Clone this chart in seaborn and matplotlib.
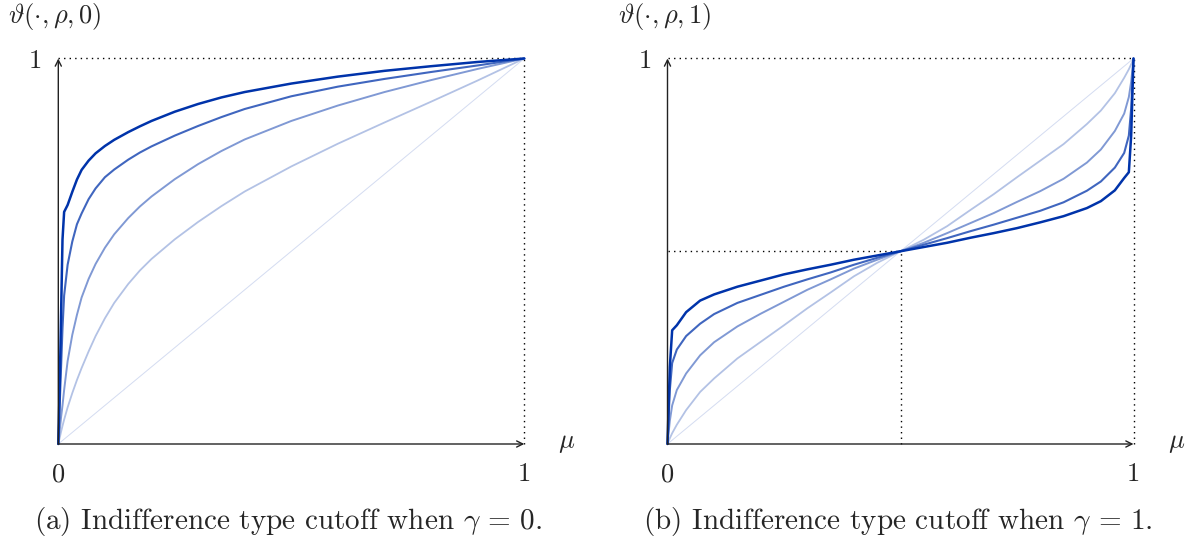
import pandas as pd
import seaborn as sns
import matplotlib.pyplot as plt
from matplotlib.colors import to_rgb

# values, gamma = 0 panel
mu_left = [0, 0.003, 0.006, 0.009, 0.0125, 0.02, 0.03, 0.04, 0.05, 0.065,
           0.08, 0.1, 0.12, 0.15, 0.175, 0.2, 0.25, 0.3, 0.35, 0.4, 0.5, 0.6,
           0.7, 0.8, 0.9, 1.0]
left_1 = [0, 0.15, 0.34, 0.53, 0.602, 0.62, 0.654, 0.686, 0.711, 0.735,
          0.754, 0.773, 0.789, 0.809, 0.824, 0.838, 0.862, 0.882, 0.899, 0.913,
          0.935, 0.953, 0.968, 0.980, 0.991, 1.0]
left_2 = [0, 0.10, 0.20, 0.30, 0.385, 0.465, 0.525, 0.57, 0.598, 0.635,
          0.663, 0.692, 0.712, 0.7375, 0.756, 0.772, 0.80, 0.825, 0.848, 0.869,
          0.902, 0.927, 0.947, 0.965, 0.982, 1.0]
left_3 = [0, 0.035, 0.07, 0.10, 0.14, 0.215, 0.283, 0.335, 0.38, 0.428,
          0.467, 0.509, 0.544, 0.586, 0.616, 0.642, 0.687, 0.726, 0.76, 0.79,
          0.838, 0.878, 0.913, 0.944, 0.973, 1.0]
left_4 = [0, 0.016, 0.032, 0.047, 0.063, 0.095, 0.132, 0.166, 0.197, 0.24,
          0.28, 0.326, 0.366, 0.415, 0.45, 0.48, 0.531, 0.576, 0.617, 0.655,
          0.72, 0.779, 0.834, 0.888, 0.943, 1.0]

# gamma = 1 panel
mu_right = [0, 0.005, 0.01, 0.02, 0.04, 0.07, 0.1, 0.15, 0.2, 0.25, 0.3, 0.35,
            0.4, 0.45, 0.5, 0.55, 0.6, 0.65, 0.7, 0.75, 0.8, 0.85, 0.9, 0.93,
            0.96, 0.98, 0.99, 0.995, 1.0]
right_1 = [0, 0.20, 0.295, 0.308, 0.342, 0.372, 0.388, 0.408, 0.424, 0.44, 0.453,
           0.465, 0.478, 0.489, 0.5, 0.511, 0.522, 0.535, 0.547, 0.56, 0.575,
           0.591, 0.612, 0.63, 0.658, 0.69, 0.705, 0.80, 1.0]
right_2 = [0, 0.14, 0.21, 0.245, 0.28, 0.312, 0.337, 0.366, 0.387, 0.408, 0.427,
           0.445, 0.465, 0.483, 0.5, 0.517, 0.534, 0.552, 0.569, 0.587, 0.605,
           0.627, 0.657, 0.681, 0.717, 0.755, 0.80, 0.87, 1.0]
right_3 = [0, 0.06, 0.10, 0.14, 0.183, 0.23, 0.264, 0.305, 0.338, 0.369, 0.40,
           0.427, 0.455, 0.478, 0.5, 0.522, 0.547, 0.573, 0.599, 0.628, 0.656,
           0.688, 0.73, 0.764, 0.812, 0.857, 0.90, 0.94, 1.0]
right_4 = [0, 0.015, 0.028, 0.05, 0.088, 0.135, 0.17, 0.222, 0.265, 0.308, 0.352,
           0.393, 0.435, 0.47, 0.5, 0.53, 0.565, 0.607, 0.648, 0.692, 0.735,
           0.778, 0.83, 0.865, 0.91, 0.95, 0.972, 0.985, 1.0]

# the palest curve is the diagonal
diag_mu = [0.0, 1.0]
diag_theta = [0.0, 1.0]

curve_names = ["c1", "c2", "c3", "c4", "c5"]
tints = [1.0, 0.75, 0.5, 0.3, 0.17]
widths = [1.8, 1.5, 1.4, 1.3, 0.7]
base = to_rgb("#0033aa")

palette = {}
sizes = {}
for name, t, w in zip(curve_names, tints, widths):
    palette[name] = tuple(1 - t + t * c for c in base)
    sizes[name] = w


def long_table(mu, curves):
    rows = []
    for name, ys in zip(curve_names[:4], curves):
        for m, y in zip(mu, ys):
            rows.append({"mu": m, "theta": y, "curve": name})
    for m, y in zip(diag_mu, diag_theta):
        rows.append({"mu": m, "theta": y, "curve": "c5"})
    return pd.DataFrame(rows)


df_left = long_table(mu_left, [left_1, left_2, left_3, left_4])
df_right = long_table(mu_right, [right_1, right_2, right_3, right_4])

sns.set_style("white")
plt.rcParams["font.family"] = ["cmr10", "DejaVu Serif"]
plt.rcParams["mathtext.fontset"] = "cm"
plt.rcParams["axes.unicode_minus"] = False

W, H = 1197, 541
fig = plt.figure(figsize=(W / 100, H / 100), dpi=100)

panels = [
    (58.3, df_left, r"$\vartheta(\cdot, \rho, 0)$",
     r"(a) Indifference type cutoff when $\gamma \,=\, 0$.", False),
    (667.5, df_right, r"$\vartheta(\cdot, \rho, 1)$",
     r"(b) Indifference type cutoff when $\gamma \,=\, 1$.", True),
]

for x0, df, ylab, caption, mid in panels:
    ax = fig.add_axes([x0 / W, (H - 444) / H, 466 / W, 385.5 / H])
    dots = dict(color="black", lw=1.0, ls=(0, (1, 3)), zorder=1)
    ax.plot([0, 1], [1, 1], **dots)
    ax.plot([1, 1], [0, 1], **dots)
    if mid:
        ax.plot([0, 0.5], [0.5, 0.5], **dots)
        ax.plot([0.5, 0.5], [0, 0.5], **dots)

    sns.lineplot(data=df, x="mu", y="theta", hue="curve", size="curve",
                 hue_order=curve_names[::-1], size_order=curve_names[::-1],
                 palette=palette, sizes=sizes, estimator=None, sort=False,
                 legend=False, ax=ax)
    for ln in ax.lines:
        ln.set_clip_on(False)
        ln.set_solid_capstyle("round")
        ln.set_solid_joinstyle("round")

    ax.set_xlim(0, 1)
    ax.set_ylim(0, 1)
    for s in ax.spines.values():
        s.set_visible(False)
    ax.set_xlabel("")
    ax.set_ylabel("")
    ax.set_xticks([0, 1])
    ax.set_xticklabels(["0", "1"])
    ax.set_yticks([1])
    ax.set_yticklabels(["1"])
    ax.tick_params(axis="both", direction="out", length=3.5, width=0.8,
                   color="#888888", labelsize=19, pad=10)
    ax.tick_params(axis="y", pad=8)

    arrow = dict(arrowstyle="->", color="#222222", lw=1.0,
                 shrinkA=0, shrinkB=0, mutation_scale=11)
    ax.annotate("", xy=(1, 0), xytext=(0, 0), arrowprops=arrow,
                annotation_clip=False, zorder=3)
    ax.annotate("", xy=(0, 1), xytext=(0, 0), arrowprops=arrow,
                annotation_clip=False, zorder=3)

    fig.text((x0 - 50) / W, 1 - 23 / H, ylab, fontsize=19, ha="left",
             va="baseline")
    fig.text((x0 + 500) / W, 1 - 448 / H, r"$\mu$", fontsize=19, ha="left",
             va="baseline")
    fig.text((x0 + 230) / W, 1 - 529 / H, caption, fontsize=21,
             ha="center", va="baseline")

fig.savefig("out.png", dpi=100)
